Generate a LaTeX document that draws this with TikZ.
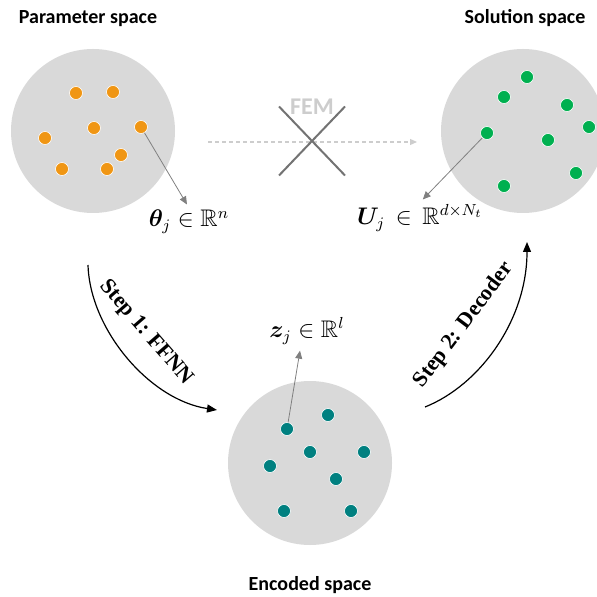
\documentclass[tikz,border=0pt]{standalone}
\usepackage{amsmath, amssymb}
\usepackage{bm}
\usepackage{fontspec}
\setsansfont{Carlito}
\newfontfamily\stepfont{Liberation Serif}
\usetikzlibrary{arrows.meta, shapes.misc}
\definecolor{spacegray}{RGB}{217,217,217}
\definecolor{paramorange}{RGB}{240,150,20}
\definecolor{solgreen}{RGB}{0,176,80}
\definecolor{codeteal}{RGB}{0,128,128}
\definecolor{femgray}{RGB}{205,205,205}
\definecolor{crossgray}{RGB}{115,115,115}

\begin{document}
\begin{tikzpicture}[x=0.5pt, y=-0.5pt,
  space/.style={circle, fill=spacegray, minimum size=82pt, inner sep=0pt},
  pt/.style={circle, fill=#1, draw=white, line width=0.3pt,
             minimum size=6.5pt, inner sep=0pt},
  title/.style={font=\sffamily\bfseries\fontsize{10}{12}\selectfont},
  vec/.style={font=\fontsize{12}{14}\selectfont, inner sep=1pt},
  pointer/.style={-{Triangle[length=4pt,width=3.5pt]}, gray, line width=0.4pt},
  stepper/.style={-{Triangle[length=5pt,width=4pt]}, black, line width=0.6pt},
  steplabel/.style={font=\stepfont\bfseries\fontsize{11}{13}\selectfont}
]
  \useasboundingbox (0,0) rectangle (597,597);

  % the three spaces
  \node[space] (param) at (93,131) {};
  \node[space] (sol) at (523,131) {};
  \node[space] (enc) at (310,463) {};

  \node[title] (paramtitle) at (88,19) {Parameter space};
  \node[title] (soltitle) at (525,18) {Solution space};
  \node[title] (enctitle) at (310,585) {Encoded space};

  % sample points
  \foreach \n/\x/\y in {1/76/93, 2/113/92, 3/94/128, 4/141/127,
                        5/45/138, 6/121/155, 7/62/169, 8/107/169}{
    \node[pt=paramorange] (p\n) at (\x,\y) {};
  }
  \foreach \n/\x/\y in {1/527/77, 2/504/97, 3/567/105, 4/589/127,
                        5/487/133, 6/548/140, 7/576/173, 8/504/186}{
    \node[pt=solgreen] (g\n) at (\x,\y) {};
  }
  \foreach \n/\x/\y in {1/287/429, 2/328/415, 3/310/452, 4/364/452,
                        5/270/466, 6/336/479, 7/284/511, 8/351/511}{
    \node[pt=codeteal] (t\n) at (\x,\y) {};
  }

  % vector labels
  \node[vec] (theta) at (189,222) {$\bm{\theta}_j \in \mathbb{R}^n$};
  \node[vec] (ulab) at (420,218) {$\bm{U}_j \,\in\, \mathbb{R}^{d\times N_t}$};
  \node[vec] (zlab) at (307,331) {$\bm{z}_j \in \mathbb{R}^l$};

  \draw[pointer, shorten >=2pt] (p4) -- (theta.north);
  \draw[pointer, shorten >=2pt] (g5) -- (ulab.north);
  \draw[pointer] (t1) -- ([xshift=-3.5pt, yshift=-2pt]zlab.south);

  % FEM (crossed out)
  \coordinate (femstart) at (208,142);
  \coordinate (femend) at (417,142);
  \draw[femgray, dashed, line width=0.6pt, dash pattern=on 2pt off 1.5pt,
        -{Triangle[length=3.5pt,width=3pt]}] (femstart) -- (femend);
  \node[cross out, draw=crossgray, line width=1pt, minimum width=32pt,
        minimum height=33.5pt] (cross) at (312,141) {};
  \node[font=\sffamily\bfseries\fontsize{12}{14}\selectfont, text=femgray]
    (fem) at (312,107) {FEM};

  % step 1 and step 2
  \coordinate (s1start) at (88,265);
  \coordinate (s1end) at (217,410);
  \draw[stepper] (s1start) .. controls (90,330) and (150,400) .. (s1end);
  \node[steplabel, rotate=-49] (step1) at (146,333) {Step 1: FFNN};

  \coordinate (s2start) at (425,407);
  \coordinate (s2end) at (527,242);
  \draw[stepper] (s2start) .. controls (480,385) and (527,320) .. (s2end);
  \node[steplabel, rotate=53] (step2) at (464,325) {Step 2: Decoder};
\end{tikzpicture}
\end{document}
